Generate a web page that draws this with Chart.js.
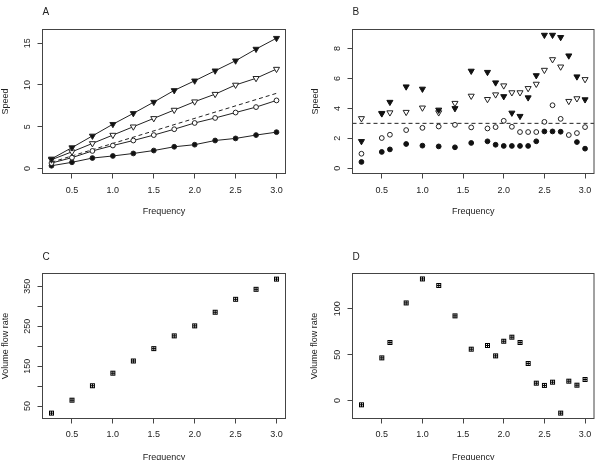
<!DOCTYPE html>
<html><head><meta charset="utf-8">
<style>
html,body{margin:0;padding:0;background:#fff;width:599px;height:460px;overflow:hidden;position:relative}
canvas{position:absolute;display:block}
</style>
<script src="https://cdn.jsdelivr.net/npm/chart.js@4/dist/chart.umd.min.js"></script>
</head><body>
<canvas id="cA" width="300" height="230" style="left:0;top:0"></canvas>
<canvas id="cB" width="299" height="230" style="left:300px;top:0"></canvas>
<canvas id="cC" width="300" height="230" style="left:0;top:230px"></canvas>
<canvas id="cD" width="299" height="230" style="left:300px;top:230px"></canvas>
<script>
// ---------- DATA ----------
const freqA = [0.25,0.5,0.75,1.0,1.25,1.5,1.75,2.0,2.25,2.5,2.75,3.0];
const speedA_filledTri  = [1.15,2.5,3.9,5.3,6.6,7.95,9.35,10.5,11.7,12.9,14.3,15.6];
const speedA_openTri    = [1.05,2.0,3.0,4.0,5.0,6.0,7.0,8.0,8.9,10.0,10.8,11.9];
const speedA_openCirc   = [0.65,1.3,2.1,2.75,3.35,4.0,4.7,5.45,6.05,6.7,7.35,8.15];
const speedA_filledCirc = [0.33,0.74,1.25,1.5,1.8,2.15,2.6,2.85,3.35,3.6,4.0,4.35];
const refA_x = [0.25, 3.0];
const refA_y = [0.75, 9.0];

const freqB = [0.25,0.5,0.6,0.8,1.0,1.2,1.4,1.6,1.8,1.9,2.0,2.1,2.2,2.3,2.4,2.5,2.6,2.7,2.8,2.9,3.0];
const speedB_filledTri  = [1.8,3.65,4.42,5.45,5.3,3.9,4.0,6.5,6.42,5.72,4.8,3.7,3.48,4.72,6.2,8.9,8.9,8.75,7.52,6.12,4.59];
const speedB_openTri    = [3.33,3.68,3.72,3.75,4.04,3.72,4.35,4.83,4.61,4.92,5.52,5.06,5.06,5.34,5.63,6.56,7.27,6.78,4.48,4.66,5.94];
const speedB_openCirc   = [0.97,2.02,2.24,2.55,2.7,2.79,2.9,2.73,2.66,2.75,3.17,2.77,2.42,2.42,2.42,3.1,4.21,3.3,2.22,2.35,2.75];
const speedB_filledCirc = [0.42,1.09,1.26,1.62,1.51,1.46,1.4,1.69,1.8,1.57,1.49,1.49,1.49,1.49,1.8,2.46,2.46,2.44,null,1.75,1.31];
const refB = 3.0;

const freqC = [0.25,0.5,0.75,1.0,1.25,1.5,1.75,2.0,2.25,2.5,2.75,3.0];
const flowC = [32.5,65,101,132.5,163,194,226,251,285,317.5,342.5,368];

const freqD = [0.25,0.5,0.6,0.8,1.0,1.2,1.4,1.6,1.8,1.9,2.0,2.1,2.2,2.3,2.4,2.5,2.6,2.7,2.8,2.9,3.0];
const flowD = [-4.7,46.5,63.3,106.5,132.7,125.5,92.4,56,60,48.7,64.7,69.1,63.3,40.4,18.9,16.4,20,-13.8,21.1,16.7,22.9];

const xTickValues = [0.5,1.0,1.5,2.0,2.5,3.0];
const xTickLabels = ['0.5','1.0','1.5','2.0','2.5','3.0'];
const yTicksA = [0,5,10,15];           const yLabelsA = ['0','5','10','15'];
const yTicksB = [0,2,4,6,8];           const yLabelsB = ['0','2','4','6','8'];
const yTicksC = [50,100,150,200,250,300,350]; const yLabelsC = ['50','','150','','250','','350'];
const yTicksD = [0,50,100];            const yLabelsD = ['0','50','100'];

// ---------- STYLE ----------
const FONT = "'Liberation Sans', Arial, Helvetica, sans-serif";
const INK = '#222';
const AXIS = '#444';

const pts = (xs, ys) => xs.map((x, i) => ({x: x, y: ys[i]}));

function boxPlusMarker() {
  const c = document.createElement('canvas');
  c.width = 7; c.height = 7;
  const g = c.getContext('2d');
  g.strokeStyle = '#000'; g.lineWidth = 1;
  g.strokeRect(1.5, 1.5, 4, 4);
  g.beginPath();
  g.moveTo(3.5, 1.5); g.lineTo(3.5, 5.5);
  g.moveTo(1.5, 3.5); g.lineTo(5.5, 3.5);
  g.stroke();
  return c;
}

const boxPlugin = {
  id: 'plotBox',
  afterDraw(chart) {
    const {ctx, chartArea: a} = chart;
    ctx.save();
    ctx.strokeStyle = AXIS; ctx.lineWidth = 1;
    ctx.strokeRect(a.left, a.top, a.right - a.left, a.bottom - a.top);
    ctx.restore();
  }
};

function xScale(o) {
  return {
    type: 'linear', min: o.min, max: o.max,
    afterBuildTicks: s => { s.ticks = xTickValues.map(v => ({value: v})); },
    afterFit: s => { s.height = o.height; },
    ticks: { autoSkip: false, color: INK, font: {family: FONT, size: 9}, padding: o.tickPad,
             maxRotation: 0, minRotation: 0, callback: (v, i) => xTickLabels[i] },
    grid: { drawOnChartArea: false, drawTicks: true, tickLength: 5, color: AXIS, tickColor: AXIS, lineWidth: 1 },
    border: { display: false },
    title: { display: true, text: 'Frequency', color: INK, font: {family: FONT, size: 9},
             padding: {top: 0, bottom: o.titlePad} }
  };
}

function yScale(o) {
  return {
    type: 'linear', min: o.min, max: o.max,
    afterBuildTicks: s => { s.ticks = o.ticks.map(v => ({value: v})); },
    afterFit: s => { s.width = o.width; },
    ticks: { autoSkip: false, color: INK, font: {family: FONT, size: 9}, padding: o.tickPad,
             minRotation: 90, maxRotation: 90, crossAlign: 'center',
             callback: (v, i) => o.labels[i] },
    grid: { drawOnChartArea: false, drawTicks: true, tickLength: 5, color: AXIS, tickColor: AXIS, lineWidth: 1 },
    border: { display: false },
    title: { display: true, text: o.title, color: INK, font: {family: FONT, size: 9},
             padding: {top: o.titlePad, bottom: 0} }
  };
}

function baseOptions(o) {
  return {
    responsive: false, animation: false, events: [],
    layout: { padding: { left: 0, top: 0, right: o.padRight, bottom: 0 } },
    plugins: {
      legend: { display: false }, tooltip: { enabled: false },
      title: { display: true, text: o.letter, align: 'start', fullSize: false, color: INK,
               font: {family: FONT, size: 10, weight: 'normal'},
               padding: {top: o.letterTop, bottom: o.letterBottom} }
    },
    scales: { x: xScale(o.x), y: yScale(o.y) }
  };
}

const triFilled = (data) => ({ data, showLine: false, pointStyle: 'triangle', rotation: 180, pointRotation: 180,
  pointRadius: 3.5, backgroundColor: '#111', borderColor: '#111', borderWidth: 1 });
const triOpen = (data) => ({ data, showLine: false, pointStyle: 'triangle', rotation: 180, pointRotation: 180,
  pointRadius: 3.5, backgroundColor: '#fff', borderColor: '#222', borderWidth: 1 });
const circOpen = (data) => ({ data, showLine: false, pointStyle: 'circle', pointRadius: 2.4,
  backgroundColor: '#fff', borderColor: '#222', borderWidth: 1 });
const circFilled = (data) => ({ data, showLine: false, pointStyle: 'circle', pointRadius: 2.4,
  backgroundColor: '#111', borderColor: '#111', borderWidth: 1 });
const withLine = (ds) => Object.assign(ds, { showLine: true, borderColor: '#222', borderWidth: 1, tension: 0 });
const dashed = (data) => ({ data, showLine: true, borderColor: '#222', borderWidth: 1, borderDash: [4, 3],
  pointRadius: 0, fill: false });

// ---------- PANEL A ----------
new Chart(document.getElementById('cA'), {
  type: 'scatter',
  data: { datasets: [
    withLine(triFilled(pts(freqA, speedA_filledTri))),
    withLine(triOpen(pts(freqA, speedA_openTri))),
    withLine(circOpen(pts(freqA, speedA_openCirc))),
    withLine(circFilled(pts(freqA, speedA_filledCirc))),
    dashed(pts(refA_x, refA_y))
  ]},
  options: baseOptions({
    letter: 'A', letterTop: 6.7, letterBottom: 10.8, padRight: 14.5,
    x: { min: 0.14, max: 3.11, height: 56.5, tickPad: 7, titlePad: 12.6 },
    y: { min: -0.6, max: 16.64, width: 42.5, tickPad: 5, ticks: yTicksA, labels: yLabelsA, title: 'Speed', titlePad: 0.6 }
  }),
  plugins: [boxPlugin]
});

// ---------- PANEL B ----------
const xMinB = 0.14, xMaxB = 3.11;
new Chart(document.getElementById('cB'), {
  type: 'scatter',
  data: { datasets: [
    triFilled(pts(freqB, speedB_filledTri)),
    triOpen(pts(freqB, speedB_openTri)),
    circOpen(pts(freqB, speedB_openCirc)),
    circFilled(pts(freqB, speedB_filledCirc)),
    dashed([{x: xMinB, y: refB}, {x: xMaxB, y: refB}])
  ]},
  options: baseOptions({
    letter: 'B', letterTop: 6.7, letterBottom: 10.8, padRight: 3.5,
    x: { min: xMinB, max: xMaxB, height: 56.5, tickPad: 7, titlePad: 12.6 },
    y: { min: -0.35, max: 9.27, width: 52.5, tickPad: 7.5, ticks: yTicksB, labels: yLabelsB, title: 'Speed', titlePad: 10.3 }
  }),
  plugins: [boxPlugin]
});

// ---------- PANEL C ----------
const marker = boxPlusMarker();
new Chart(document.getElementById('cC'), {
  type: 'scatter',
  data: { datasets: [
    { data: pts(freqC, flowC), pointStyle: marker, pointRadius: 3.5, showLine: false }
  ]},
  options: baseOptions({
    letter: 'C', letterTop: 21.5, letterBottom: 10, padRight: 14.5,
    x: { min: 0.14, max: 3.11, height: 41.5, tickPad: 6, titlePad: -2.6 },
    y: { min: 19, max: 382, width: 42.5, tickPad: 2.5, ticks: yTicksC, labels: yLabelsC, title: 'Volume flow rate', titlePad: 0 }
  }),
  plugins: [boxPlugin]
});

// ---------- PANEL D ----------
new Chart(document.getElementById('cD'), {
  type: 'scatter',
  data: { datasets: [
    { data: pts(freqD, flowD), pointStyle: marker, pointRadius: 3.5, showLine: false }
  ]},
  options: baseOptions({
    letter: 'D', letterTop: 21.5, letterBottom: 10, padRight: 3.5,
    x: { min: 0.14, max: 3.11, height: 41.5, tickPad: 6, titlePad: -2.6 },
    y: { min: -19.7, max: 138.6, width: 52.5, tickPad: 2.5, ticks: yTicksD, labels: yLabelsD, title: 'Volume flow rate', titlePad: 9.6 }
  }),
  plugins: [boxPlugin]
});
</script>
</body></html>
